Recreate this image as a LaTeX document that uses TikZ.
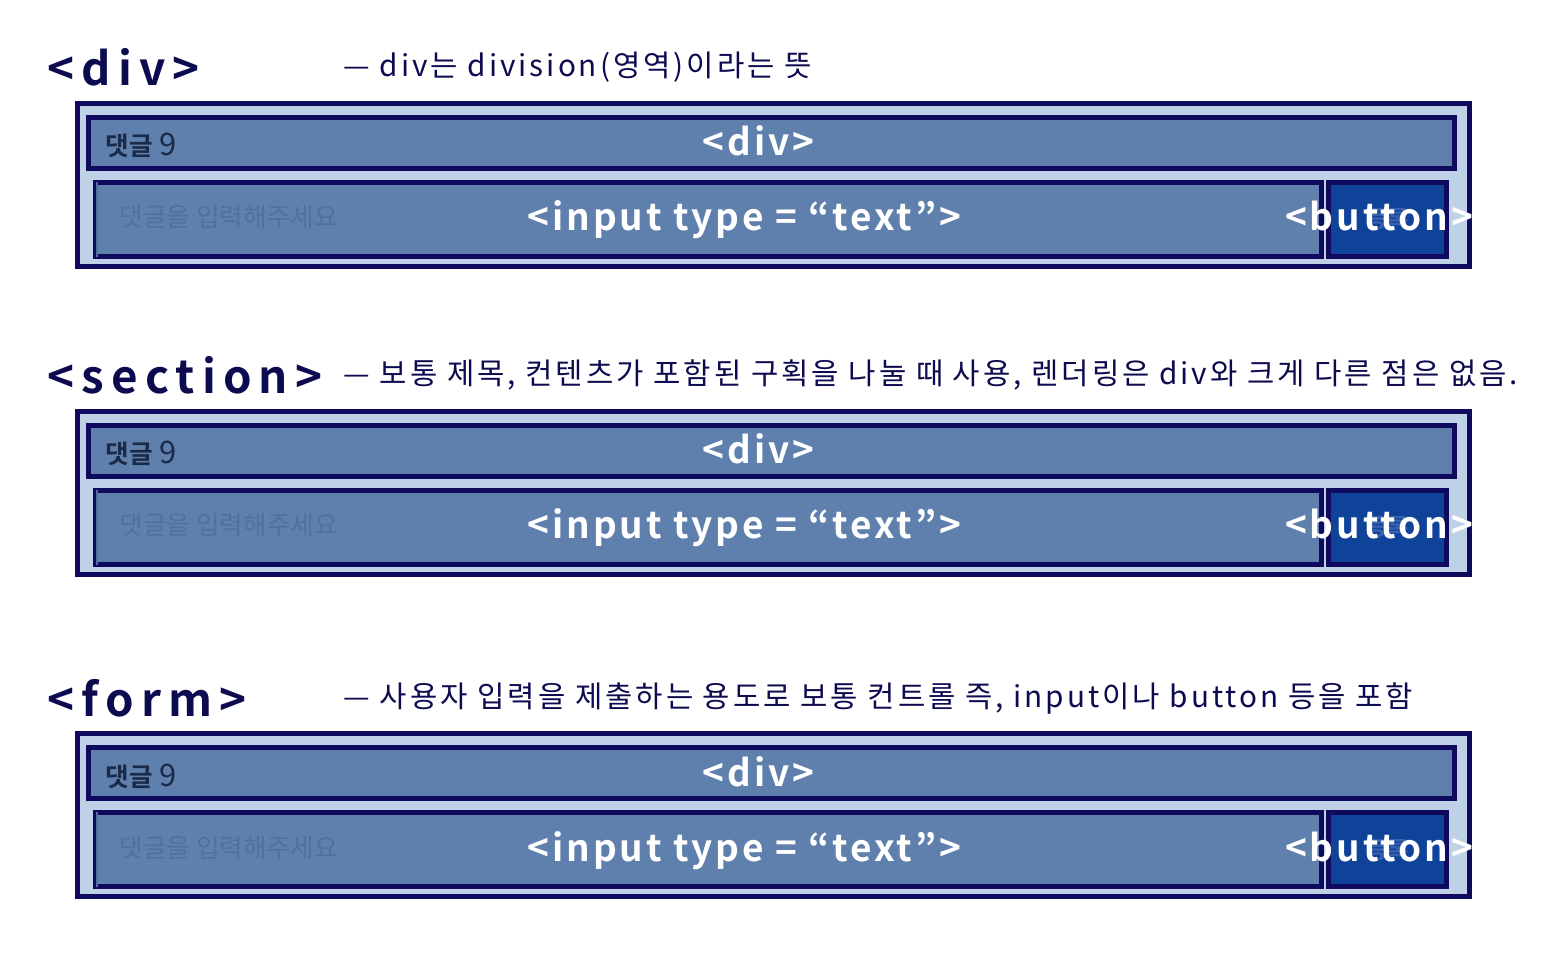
\documentclass[tikz,border=0pt]{standalone}
\usepackage{fontspec}
\setmainfont{Noto Sans CJK KR}[BoldFont={Noto Sans CJK KR Bold}]
\newfontfamily\titlefont[LetterSpace=15.5]{Noto Sans CJK KR Bold}
\newfontfamily\descfont[LetterSpace=10]{Noto Sans CJK KR}
\newfontfamily\tagfont[LetterSpace=8]{Noto Sans CJK KR Bold}

\definecolor{boxline}{HTML}{100A5E}
\definecolor{outerfill}{HTML}{BFD1E6}
\definecolor{divfill}{HTML}{5F80AD}
\definecolor{btnfill}{HTML}{0F439A}
\definecolor{inktext}{HTML}{0D0B4F}
\definecolor{cnttext}{HTML}{1B2A48}
\definecolor{holdtext}{HTML}{5070A0}
\definecolor{btnghost}{HTML}{3A62AC}
\definecolor{edgeline}{HTML}{4F6F9C}

\tikzset{
  box/.style={draw=boxline, line width=0.05cm, inner sep=0pt, fill=#1},
  title/.style={text=inktext, font=\titlefont\fontsize{13pt}{15pt}\selectfont, inner sep=0pt},
  desc/.style={text=inktext, font=\descfont\fontsize{8.45pt}{10pt}\selectfont, inner sep=0pt},
  tag/.style={text=white, font=\tagfont\fontsize{10.5pt}{12pt}\selectfont, inner sep=0pt},
  count/.style={text=cnttext, font=\fontsize{7.3pt}{9pt}\selectfont, inner sep=0pt},
  hold/.style={text=holdtext, font=\fontsize{7.3pt}{9pt}\selectfont, inner sep=0pt},
  ghost/.style={text=btnghost, font=\bfseries\fontsize{6.6pt}{8pt}\selectfont, inner sep=0pt},
}

\begin{document}
\begin{tikzpicture}[x=0.01cm, y=-0.01cm]
\useasboundingbox (0,0) rectangle (1557,964);

% div
\node[title, anchor=base west] (t1) at (47,86) {<div>};
\node[desc, anchor=base west] (d1) at (343,77) {— div는 division(영역)이라는 뜻};
\node[box=outerfill, minimum width=13.92cm, minimum height=1.63cm] (o1) at (773.5,185) {};
\node[box=divfill, minimum width=13.66cm, minimum height=0.51cm] (h1) at (771.5,143) {};
\node[box=divfill, minimum width=12.26cm, minimum height=0.74cm] (i1) at (708.5,219.5) {};
\node[box=btnfill, minimum width=1.175cm, minimum height=0.74cm] (b1) at (1387.75,219.5) {};
\draw[edgeline, line width=0.02cm] ([shift={(4,2.5)}]i1.north west) -- ([shift={(4,-2.5)}]i1.south west);
\node[count, anchor=base west] (c1) at (105,156) {\textbf{댓글}\hspace{0.25em}{\fontsize{8.8pt}{9pt}\selectfont 9}};
\node[hold, anchor=base west] (p1) at (119,227) {댓글을 입력해주세요};
\node[ghost, anchor=base] (g1) at (b1.south |- 0,228) {등록};
\node[tag, anchor=base] (l1) at (758.5,156) {<div>};
\node[tag, anchor=base] (n1) at (744.5,231) {<input type = “text”>};
\node[tag, anchor=base] (k1) at (1379,231) {<button>};

% section
\node[title, anchor=base west] (t2) at (47,394) {<section>};
\node[desc, anchor=base west] (d2) at (343,385) {— 보통 제목, 컨텐츠가 포함된 구획을 나눌 때 사용, 렌더링은 div와 크게 다른 점은 없음.};
\node[box=outerfill, minimum width=13.92cm, minimum height=1.63cm] (o2) at (773.5,493) {};
\node[box=divfill, minimum width=13.66cm, minimum height=0.51cm] (h2) at (771.5,451) {};
\node[box=divfill, minimum width=12.26cm, minimum height=0.74cm] (i2) at (708.5,527.5) {};
\node[box=btnfill, minimum width=1.175cm, minimum height=0.74cm] (b2) at (1387.75,527.5) {};
\draw[edgeline, line width=0.02cm] ([shift={(4,2.5)}]i2.north west) -- ([shift={(4,-2.5)}]i2.south west);
\node[count, anchor=base west] (c2) at (105,464) {\textbf{댓글}\hspace{0.25em}{\fontsize{8.8pt}{9pt}\selectfont 9}};
\node[hold, anchor=base west] (p2) at (119,535) {댓글을 입력해주세요};
\node[ghost, anchor=base] (g2) at (b2.south |- 0,536) {등록};
\node[tag, anchor=base] (l2) at (758.5,464) {<div>};
\node[tag, anchor=base] (n2) at (744.5,539) {<input type = “text”>};
\node[tag, anchor=base] (k2) at (1379,539) {<button>};

% form
\node[title, anchor=base west] (t3) at (47,716) {<form>};
\node[desc, anchor=base west] (d3) at (343,707) {— 사용자 입력을 제출하는 용도로 보통 컨트롤 즉, input이나 button 등을 포함};
\node[box=outerfill, minimum width=13.92cm, minimum height=1.63cm] (o3) at (773.5,815) {};
\node[box=divfill, minimum width=13.66cm, minimum height=0.51cm] (h3) at (771.5,773) {};
\node[box=divfill, minimum width=12.26cm, minimum height=0.74cm] (i3) at (708.5,849.5) {};
\node[box=btnfill, minimum width=1.175cm, minimum height=0.74cm] (b3) at (1387.75,849.5) {};
\draw[edgeline, line width=0.02cm] ([shift={(4,2.5)}]i3.north west) -- ([shift={(4,-2.5)}]i3.south west);
\node[count, anchor=base west] (c3) at (105,786) {\textbf{댓글}\hspace{0.25em}{\fontsize{8.8pt}{9pt}\selectfont 9}};
\node[hold, anchor=base west] (p3) at (119,857) {댓글을 입력해주세요};
\node[ghost, anchor=base] (g3) at (b3.south |- 0,858) {등록};
\node[tag, anchor=base] (l3) at (758.5,786) {<div>};
\node[tag, anchor=base] (n3) at (744.5,861) {<input type = “text”>};
\node[tag, anchor=base] (k3) at (1379,861) {<button>};

\end{tikzpicture}
\end{document}
